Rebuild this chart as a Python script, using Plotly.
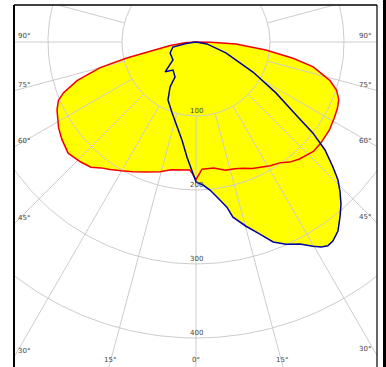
import numpy as np
import plotly.graph_objects as go

# C0-C180 plane (red), signed angle in degrees from nadir (negative = left), intensity cd/klm
red_angles = [-90, -86, -82, -79, -77, -75, -72, -69, -67, -64, -61, -58, -54, -49, -44, -40, -37, -34, -30,
              -26, -21, -15.5, -11, -7, -2.7, 0, 2.7, 8, 13, 17, 20.5, 24, 27, 31, 35, 38, 41.5, 47, 51, 56.5,
              61.5, 65, 68, 71, 74, 78, 80.5, 83.5, 87, 89, 90]
red_values = [0, 15, 35, 60, 96, 134, 169, 192, 202, 209, 214, 219, 224, 229, 225, 221, 213, 208, 201,
              195, 188, 182, 176, 174, 173, 186, 172, 172, 178, 179, 182, 187, 190, 195, 199, 206, 211, 217, 217, 216,
              213, 211, 208, 201, 188, 162, 133, 95, 54, 20, 0]

# C90-C270 plane (blue)
blue_angles = [-90, -82, -77.7, -67, -52, -48, -46, -39.4, -31, -30, -25.8, -18.7, -12.6, -8.1, -4.5, -1.8, 0,
               2.8, 5.4, 8, 10.6, 11.9, 15.2, 18.4, 21.1, 24, 27.2, 29.8, 31.4, 32.9, 34.5, 36.9, 39.5, 41.8,
               44, 45.8, 47.6, 50.1, 52.1, 53.9, 57.5, 62.2, 69.9, 80, 90]
blue_values = [0, 12, 32, 38, 39.5, 52.6, 58, 49, 55, 70, 87, 101, 118, 134, 156, 173, 189,
               193.5, 201, 213, 227, 242, 258, 273.5, 289.6, 299, 307, 318, 324.5, 328, 326.5, 319.5, 306, 294,
               280, 267.6, 250.6, 227, 200, 167, 128, 87, 43, 15, 0]

ring_values = [100, 200, 300, 400]
spoke_angles = list(range(-180, 181, 15))
side_labels = [90, 75, 60, 45, 30]
bottom_labels = [-15, 0, 15]

X_RANGE = [-245.95, 244.59]
Y_RANGE = [-439.19, 50.0]


def to_xy(angles, values):
    a = np.radians(np.asarray(angles, dtype=float))
    r = np.asarray(values, dtype=float)
    return r * np.sin(a), -r * np.cos(a)


fig = go.Figure()

rx, ry = to_xy(red_angles, red_values)
bx, by = to_xy(blue_angles, blue_values)

for x, y in ((bx, by), (rx, ry)):
    fig.add_trace(go.Scatter(x=x, y=y, mode="lines", fill="toself", fillcolor="#ffff00",
                             line=dict(width=0, color="rgba(0,0,0,0)"), hoverinfo="skip", showlegend=False))

# grid
gx, gy = [], []
t = np.linspace(0, 360, 361)
for rv in ring_values:
    cx, cy = to_xy(t, np.full_like(t, rv))
    gx += list(cx) + [None]
    gy += list(cy) + [None]
for sa in spoke_angles:
    sx, sy = to_xy([sa, sa], [100, 900])
    gx += list(sx) + [None]
    gy += list(sy) + [None]
fig.add_trace(go.Scatter(x=gx, y=gy, mode="lines", line=dict(color="#cccccc", width=1),
                         hoverinfo="skip", showlegend=False))

fig.add_trace(go.Scatter(x=rx, y=ry, mode="lines", line=dict(color="#ee0000", width=1.5),
                         hoverinfo="skip", showlegend=False))
fig.add_trace(go.Scatter(x=bx, y=by, mode="lines", line=dict(color="#0000a0", width=1.5),
                         hoverinfo="skip", showlegend=False))

font = dict(family="DejaVu Sans", size=7, color="#444444")
ann = []
for rv in ring_values:
    ann.append(dict(x=0, y=-rv, text=str(rv), showarrow=False, xanchor="center", yanchor="bottom",
                    font=font, yshift=-1))
L = -X_RANGE[0]
R = X_RANGE[1]
for a in side_labels:
    yl = -L / np.tan(np.radians(a)) if a != 90 else 0.0
    yr = -R / np.tan(np.radians(a)) if a != 90 else 0.0
    ann.append(dict(x=X_RANGE[0], y=yl, text=f"{a}°", showarrow=False, xanchor="left", yanchor="bottom",
                    font=font, xshift=2))
    ann.append(dict(x=X_RANGE[1], y=yr, text=f"{a}°", showarrow=False, xanchor="right", yanchor="bottom",
                    font=font, xshift=-4))
B = -Y_RANGE[0] * 0.985
for a in bottom_labels:
    ann.append(dict(x=B * np.tan(np.radians(a)), y=Y_RANGE[0], text=f"{abs(a)}°", showarrow=False,
                    xanchor="center", yanchor="bottom", font=font, yshift=1))

shapes = [
    dict(type="line", xref="paper", yref="paper", x0=0, x1=0, y0=0, y1=1, line=dict(color="black", width=2)),
    dict(type="line", xref="paper", yref="paper", x0=0, x1=1, y0=1, y1=1, line=dict(color="black", width=1.5)),
    dict(type="line", xref="paper", yref="paper", x0=1, x1=1, y0=0, y1=1, line=dict(color="black", width=1.2)),
    dict(type="rect", xref="paper", yref="paper", x0=1.0165, x1=1.03, y0=0, y1=1.02,
         line=dict(width=0), fillcolor="black"),
]

fig.update_layout(
    width=386, height=367,
    margin=dict(l=14, r=9, t=5, b=0, pad=0),
    paper_bgcolor="white", plot_bgcolor="white",
    xaxis=dict(range=X_RANGE, visible=False, fixedrange=True),
    yaxis=dict(range=Y_RANGE, visible=False, fixedrange=True),
    annotations=ann, shapes=shapes, showlegend=False,
)

fig.write_html("out.html", config={"displayModeBar": False},
               post_script="document.body.style.margin='0';document.body.style.overflow='hidden';")
